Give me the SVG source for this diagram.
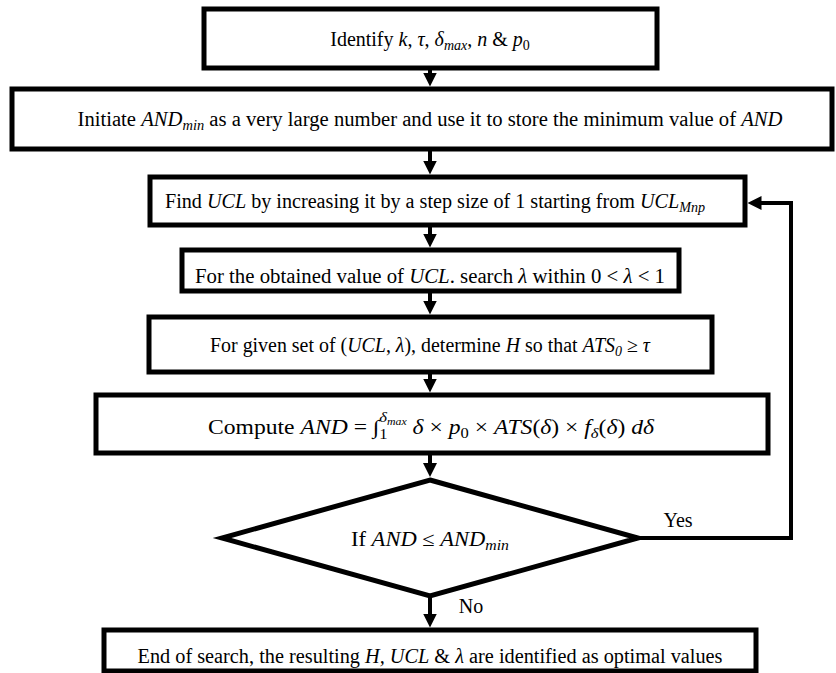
<svg xmlns="http://www.w3.org/2000/svg" width="836" height="673" viewBox="0 0 836 673">
<defs>
<marker id="ah" markerUnits="userSpaceOnUse" markerWidth="14" markerHeight="14" viewBox="0 0 14 14" refX="3" refY="7" orient="auto">
<path d="M0,0 L14,7 L0,14 Z" fill="#000"/>
</marker>
<style>
.box{fill:#fff;stroke:#000;stroke-width:5}
.con{fill:none;stroke:#000;stroke-width:4}
.t{font-family:"Liberation Serif","Times New Roman",serif;font-size:20px;fill:#000}
.m{font-style:italic}
.s{font-size:14px}
</style>
</defs>
<rect width="836" height="673" fill="#fff"/>

<g id="connectors">
<line class="con" x1="430" y1="70" x2="430" y2="75.5" marker-end="url(#ah)"/>
<line class="con" x1="430" y1="151" x2="430" y2="163.5" marker-end="url(#ah)"/>
<line class="con" x1="430" y1="227" x2="430" y2="236.5" marker-end="url(#ah)"/>
<line class="con" x1="430" y1="293" x2="430" y2="303.5" marker-end="url(#ah)"/>
<line class="con" x1="430" y1="374" x2="430" y2="381.5" marker-end="url(#ah)"/>
<line class="con" x1="430" y1="455" x2="430" y2="466" marker-end="url(#ah)"/>
<line class="con" x1="430" y1="598" x2="430" y2="616.5" marker-end="url(#ah)"/>
<path class="con" d="M638,538 H791 V203 H758.5" marker-end="url(#ah)"/>
</g>

<g id="n1">
<rect class="box" x="204" y="9" width="453" height="59"/>
<text class="t" x="430" y="46" text-anchor="middle">Identify <tspan class="m">k</tspan>, <tspan class="m">τ</tspan>, <tspan class="m">δ</tspan><tspan class="m s" dy="4">max</tspan><tspan dy="-4">, </tspan><tspan class="m">n</tspan> &amp; <tspan class="m">p</tspan><tspan class="s" dy="4">0</tspan></text>
</g>

<g id="n2">
<rect class="box" x="12" y="89" width="820" height="60"/>
<text class="t" x="430" y="126" text-anchor="middle" textLength="705" lengthAdjust="spacingAndGlyphs">Initiate <tspan class="m">AND</tspan><tspan class="m s" dy="4">min</tspan><tspan dy="-4"> as a very large number and use it to store the minimum value of </tspan><tspan class="m">AND</tspan></text>
</g>

<g id="n3">
<rect class="box" x="150" y="177" width="595" height="48"/>
<text class="t" x="435" y="208" text-anchor="middle" textLength="540" lengthAdjust="spacingAndGlyphs">Find <tspan class="m">UCL</tspan> by increasing it by a step size of 1 starting from <tspan class="m">UCL</tspan><tspan class="m s" dy="4">Mnp</tspan></text>
</g>

<g id="n4">
<rect class="box" x="182" y="250" width="497" height="41"/>
<text class="t" x="430" y="283" text-anchor="middle" textLength="470" lengthAdjust="spacingAndGlyphs">For the obtained value of <tspan class="m">UCL</tspan>. search <tspan class="m">λ</tspan> within 0 &lt; <tspan class="m">λ</tspan> &lt; 1</text>
</g>

<g id="n5">
<rect class="box" x="149" y="317" width="563" height="55"/>
<text class="t" x="430" y="352" text-anchor="middle" textLength="440" lengthAdjust="spacingAndGlyphs">For given set of (<tspan class="m">UCL</tspan>, <tspan class="m">λ</tspan>), determine <tspan class="m">H</tspan> so that <tspan class="m">ATS</tspan><tspan class="m s" dy="4">0</tspan><tspan dy="-4"> ≥ </tspan><tspan class="m">τ</tspan></text>
</g>

<g id="n6">
<rect class="box" x="96" y="395" width="672" height="58"/>
<text class="t" x="431" y="434" text-anchor="middle" textLength="446" lengthAdjust="spacingAndGlyphs">Compute <tspan class="m">AND</tspan> = ∫<tspan class="s" dy="5">1</tspan><tspan class="m s" dx="-7" dy="-17">δ</tspan><tspan class="m" font-size="10" dy="3">max</tspan><tspan dy="9"> </tspan><tspan class="m">δ</tspan> × <tspan class="m">p</tspan><tspan class="s" dy="4">0</tspan><tspan dy="-4"> × </tspan><tspan class="m">ATS</tspan>(<tspan class="m">δ</tspan>) × <tspan class="m">f</tspan><tspan class="m s" dy="4">δ</tspan><tspan dy="-4">(</tspan><tspan class="m">δ</tspan>)  <tspan class="m">dδ</tspan></text>
</g>

<g id="n7">
<polygon class="box" points="430,480 638,538 430,596 222,538"/>
<text class="t" x="430" y="546" text-anchor="middle" textLength="158" lengthAdjust="spacingAndGlyphs">If <tspan class="m">AND</tspan> ≤ <tspan class="m">AND</tspan><tspan class="m s" dy="4">min</tspan></text>
</g>

<g id="n8">
<rect class="box" x="104" y="630" width="652" height="41"/>
<text class="t" x="430" y="663" text-anchor="middle" textLength="585" lengthAdjust="spacingAndGlyphs">End of search, the resulting <tspan class="m">H, UCL</tspan> &amp; <tspan class="m">λ</tspan> are identified as optimal values</text>
</g>

<g id="labels">
<text class="t" x="678" y="527" text-anchor="middle">Yes</text>
<text class="t" x="471" y="613" text-anchor="middle">No</text>
</g>
</svg>
